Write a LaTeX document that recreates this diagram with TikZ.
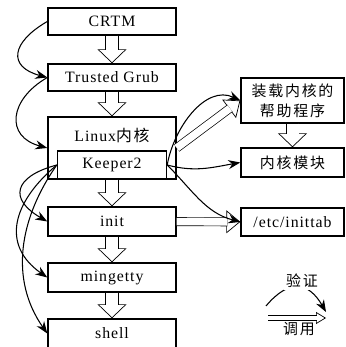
\documentclass[tikz,border=0pt]{standalone}
\usepackage{fontspec}
\setmainfont{Liberation Serif}[LetterSpace=6]
\newfontfamily\cjk{Noto Sans CJK SC}[LetterSpace=12]
\usetikzlibrary{arrows.meta}
\tikzset{
  box/.style={draw, thick, minimum width=2.56cm, minimum height=0.58cm, inner sep=0pt, font=\fontsize{9pt}{11pt}\selectfont},
  sidebox/.style={box, minimum width=2.06cm, font=\cjk\fontsize{8.5pt}{11.3pt}\selectfont},
  link/.style={semithick, -{Stealth[length=0.24cm, width=0.18cm]}},
  hollowtip/.style 2 args={thin, -{Triangle[open, length=#1, width=#2]}},
  hollowshaft/.style 2 args={thin, double, double distance=#1, shorten >=#2},
}

\begin{document}
\begin{tikzpicture}
    \useasboundingbox (0,0) rectangle (6.9,6.94);

    % Startkette
    \node[box, minimum height=0.54cm] (crtm) at (2.24,6.51) {CRTM};
    \node[box, minimum height=0.54cm] (grub) at (2.24,5.39) {Trusted Grub};
    \node[box, minimum height=1.24cm] (linux) at (2.24,3.98) {};
    \node[font=\fontsize{9pt}{11pt}\selectfont] (linuxtext) at (2.24,4.24) {Linux{\cjk 内核}};
    \node[box, minimum width=2.18cm, minimum height=0.56cm] (keeper) at (2.24,3.64) {Keeper2};
    \node[box] (init) at (2.24,2.51) {init};
    \node[box] (mingetty) at (2.24,1.39) {mingetty};
    \node[box] (shell) at (2.24,0.27) {shell};

    % rechte Spalte
    \node[sidebox, minimum height=0.9cm, align=center] (loader) at (5.85,4.93) {装载内核的\\帮助程序};
    \node[sidebox] (modules) at (5.85,3.69) {内核模块};
    \node[sidebox, minimum height=0.56cm, font=\fontsize{9pt}{11pt}\selectfont] (inittab) at (5.85,2.50) {/etc/inittab};

    % Aufrufe
    \foreach \a/\b in {crtm/grub, grub/linux, keeper/init, init/mingetty, mingetty/shell, loader/modules}{
        \draw[hollowtip={0.28cm}{0.58cm}] (\a) -- (\b);
        \draw[hollowshaft={0.24cm}{0.26cm}] (\a) -- (\b);
    }
    \draw[hollowtip={0.28cm}{0.46cm}] (init) -- (inittab);
    \draw[hollowshaft={0.15cm}{0.26cm}] (init) -- (inittab);
    \draw[hollowtip={0.28cm}{0.46cm}] (linux.east) -- (loader.west);
    \draw[hollowshaft={0.15cm}{0.26cm}] (linux.east) -- (loader.west);

    % Verifikation
    \draw[link] (crtm.west) to[out=210, in=165, looseness=1.9] (grub.west);
    \draw[link] (grub.west) to[out=210, in=165, looseness=1.6] (linux.west);
    \draw[link] (keeper.west) to[out=195, in=150, looseness=2.0] (init.west);
    \draw[link] (keeper.west) to[out=220, in=145, looseness=1.3] (mingetty.west);
    \draw[link] (keeper.west) to[out=235, in=125, looseness=1.0] (shell.west);
    \draw[link] (keeper.east) to[out=80, in=155] (loader.west);
    \draw[link] (keeper.east) to[out=-15, in=190] (modules.west);
    \draw[link] (keeper.east) to[out=-45, in=165] (inittab.west);

    % Legende
    \coordinate (vstart) at (5.32,0.82);
    \coordinate (vend) at (6.52,0.70);
    \draw[link] (vstart) to[out=50, in=120, looseness=1.5] (vend);
    \node[fill=white, inner sep=1pt, font=\cjk\fontsize{8.5pt}{10pt}\selectfont] (verify) at (6.04,1.32) {验证};
    \coordinate (cstart) at (5.36,0.58);
    \coordinate (cend) at (6.52,0.58);
    \draw[hollowtip={0.2cm}{0.24cm}] (cstart) -- (cend);
    \draw[hollowshaft={0.08cm}{0.18cm}] (cstart) -- (cend);
    \node[font=\cjk\fontsize{8.5pt}{10pt}\selectfont] (call) at (5.98,0.36) {调用};

\end{tikzpicture}
\end{document}
